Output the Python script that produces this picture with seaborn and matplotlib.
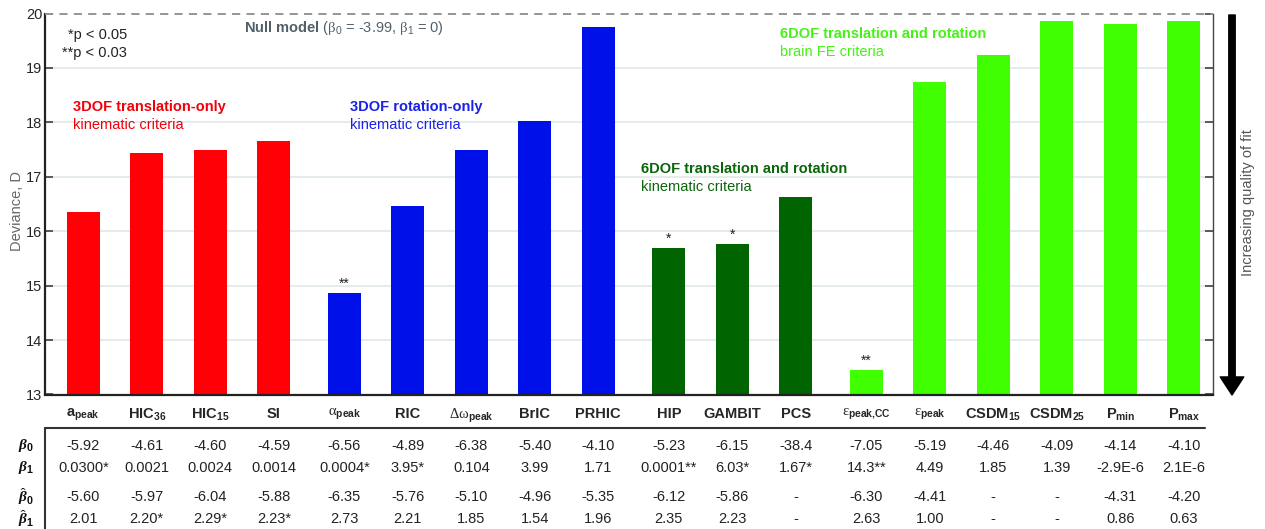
import numpy as np
import pandas as pd
import seaborn as sns
import matplotlib
matplotlib.use("Agg")
import matplotlib.pyplot as plt
from matplotlib import transforms
from matplotlib.lines import Line2D

# ---- data -------------------------------------------------------------
criteria = [
    r"a$_\mathbf{peak}$", r"HIC$_\mathbf{36}$", r"HIC$_\mathbf{15}$", "SI",
    r"$\mathrm{\alpha}_\mathbf{peak}$", "RIC",
    r"$\mathrm{\Delta\omega}_\mathbf{peak}$", "BrIC", "PRHIC", "HIP", "GAMBIT",
    "PCS", r"$\mathrm{\varepsilon}_\mathbf{peak{,}CC}$",
    r"$\mathrm{\varepsilon}_\mathbf{peak}$", r"CSDM$_\mathbf{15}$",
    r"CSDM$_\mathbf{25}$", r"P$_\mathbf{min}$", r"P$_\mathbf{max}$",
]
deviance = [16.35, 17.43, 17.49, 17.66, 14.87, 16.46, 17.49, 18.02, 19.76,
            15.69, 15.77, 16.63, 13.45, 18.75, 19.24, 19.86, 19.81, 19.87]
group = ["trans"] * 4 + ["rot"] * 5 + ["kin6"] * 3 + ["fe6"] * 6
stars = ["", "", "", "", "**", "", "", "", "", "*", "*", "", "**",
         "", "", "", "", ""]

beta0 = ["-5.92", "-4.61", "-4.60", "-4.59", "-6.56", "-4.89", "-6.38", "-5.40",
         "-4.10", "-5.23", "-6.15", "-38.4", "-7.05", "-5.19", "-4.46", "-4.09",
         "-4.14", "-4.10"]
beta1 = ["0.0300*", "0.0021", "0.0024", "0.0014", "0.0004*", "3.95*", "0.104",
         "3.99", "1.71", "0.0001**", "6.03*", "1.67*", "14.3**", "4.49", "1.85",
         "1.39", "-2.9E-6", "2.1E-6"]
beta0_hat = ["-5.60", "-5.97", "-6.04", "-5.88", "-6.35", "-5.76", "-5.10",
             "-4.96", "-5.35", "-6.12", "-5.86", "-", "-6.30", "-4.41", "-", "-",
             "-4.31", "-4.20"]
beta1_hat = ["2.01", "2.20*", "2.29*", "2.23*", "2.73", "2.21", "1.85", "1.54",
             "1.96", "2.35", "2.23", "-", "2.63", "1.00", "-", "-", "0.86", "0.63"]

null_deviance = 20.0

# ---- styling ----------------------------------------------------------
sns.set_theme(style="white")
plt.rcParams["font.family"] = ["Liberation Sans", "DejaVu Sans"]
plt.rcParams["mathtext.fontset"] = "custom"
plt.rcParams["mathtext.rm"] = "Liberation Serif"
plt.rcParams["mathtext.bf"] = "Liberation Sans:bold"
plt.rcParams["mathtext.sf"] = "Liberation Sans"
plt.rcParams["mathtext.it"] = "Liberation Sans:italic"
plt.rcParams["mathtext.bfit"] = "Liberation Serif:bold:italic"

palette = {"trans": "#fe0006", "rot": "#0010e8", "kin6": "#006400", "fe6": "#40ff00"}
text_col = {"trans": "#f2000a", "rot": "#1a22e6", "kin6": "#0b650b", "fe6": "#46f216"}

W, H = 1265, 529
fig = plt.figure(figsize=(W / 100, H / 100), dpi=100)
ax = fig.add_axes([45 / W, 1 - 394.5 / H, (1213 - 45) / W, (394.5 - 13.5) / H])


def fpx(x, y):
    """pixel position measured from the top-left corner -> figure fraction"""
    return x / W, 1 - y / H


# bar positions: one unit per criterion plus a small gap between groups
group_order = ["trans", "rot", "kin6", "fe6"]
gap = 0.11
pos = [i + gap * group_order.index(g) for i, g in enumerate(group)]

df = pd.DataFrame({"pos": pos, "deviance": deviance, "group": group})

for yv in range(14, 20):
    ax.axhline(yv, color="#e6ebeb", lw=1.5, zorder=0.5)

sns.barplot(data=df, x="pos", y="deviance", hue="group", palette=palette,
            native_scale=True, dodge=False, width=0.52, saturation=1,
            errorbar=None, legend=False, ax=ax, zorder=2, linewidth=0)

ax.axhline(null_deviance, color="#8c979c", lw=1.4, dashes=(4.2, 3.2), zorder=3,
           clip_on=False)

ax.set_ylim(13, 20)
ax.set_xlim(-0.603, 17.79)
ax.set_yticks(range(13, 21))
ax.set_yticklabels([str(v) for v in range(13, 21)], fontsize=10.5)
ax.set_xticks(pos)
ax.set_xticklabels(criteria, fontsize=10.5, fontweight="bold")
ax.set_xlabel("")
ax.set_ylabel("")
ax.tick_params(axis="x", length=0, pad=9)
ax.tick_params(axis="y", direction="in", length=6, width=1.1, color="#333333",
               right=True, left=True, pad=2)

for side in ("left", "bottom"):
    ax.spines[side].set_linewidth(1.6)
    ax.spines[side].set_color("#222222")
ax.spines["right"].set_linewidth(1.0)
ax.spines["right"].set_color("#444444")
ax.spines["top"].set_visible(False)

# significance markers above bars
for p, v, s in zip(pos, deviance, stars):
    if s:
        ax.annotate(s, xy=(p, v), xytext=(0, 3.5), textcoords="offset points",
                    ha="center", va="baseline", fontsize=10, color="#222222")

# annotations inside the plot area
fig.text(*fpx(127, 35), "*p < 0.05", ha="right", va="center", fontsize=10.5, color="#222222")
fig.text(*fpx(127, 53), "**p < 0.03", ha="right", va="center", fontsize=10.5, color="#222222")
fig.text(*fpx(244, 28),
         r"$\mathbf{Null\ model}$ ($\mathrm{\beta}_\mathsf{0}$ = -3.99, $\mathrm{\beta}_\mathsf{1}$ = 0)",
         ha="left", va="center", fontsize=10.5, color="#52606a")

headings = [
    ("trans", 73, 107, "3DOF translation-only", "kinematic criteria"),
    ("rot", 350, 107, "3DOF rotation-only", "kinematic criteria"),
    ("kin6", 641, 169, "6DOF translation and rotation", "kinematic criteria"),
    ("fe6", 780, 34, "6DOF translation and rotation", "brain FE criteria"),
]
for g, x0, y0, title, sub in headings:
    fig.text(*fpx(x0, y0), title, ha="left", va="center", fontsize=10.5,
             fontweight="bold", color=text_col[g])
    fig.text(*fpx(x0, y0 + 18), sub, ha="left", va="center", fontsize=10.5,
             color=text_col[g])

fig.text(*fpx(17, 211), "Deviance, D", rotation=90, ha="center", va="center",
         fontsize=10.5, color="#666666")

# quality-of-fit arrow on the right
ax.annotate("", xy=fpx(1232, 395), xytext=fpx(1232, 15), xycoords="figure fraction",
            textcoords="figure fraction",
            arrowprops=dict(width=4.6, headwidth=17, headlength=13, color="black",
                            shrink=0))
fig.text(*fpx(1248, 203), "Increasing quality of fit", rotation=90, ha="center",
         va="center", fontsize=10.5, color="#555555")

# parameter table below the axis
fig.add_artist(Line2D([45 / W, 1205 / W], [1 - 428 / H] * 2, color="#333333", lw=1.5))
fig.add_artist(Line2D([45 / W] * 2, [1 - 428 / H, 0], color="#333333", lw=1.5))

tbl = transforms.blended_transform_factory(ax.transData, fig.transFigure)
rows = [
    (446, r"$\mathbfit{\beta}_\mathbf{0}$", beta0),
    (468, r"$\mathbfit{\beta}_\mathbf{1}$", beta1),
    (497, r"$\hat{\mathbfit{\beta}}_\mathbf{0}$", beta0_hat),
    (519, r"$\hat{\mathbfit{\beta}}_\mathbf{1}$", beta1_hat),
]
for ypx, label, values in rows:
    yf = 1 - ypx / H
    fig.text(34 / W, yf, label, ha="right", va="center", fontsize=11, color="#111111")
    for p, txt in zip(pos, values):
        ax.text(p, yf, txt, transform=tbl, ha="center", va="center",
                fontsize=10.5, color="#222222", clip_on=False)

fig.savefig("out.png", dpi=100, facecolor="white")
